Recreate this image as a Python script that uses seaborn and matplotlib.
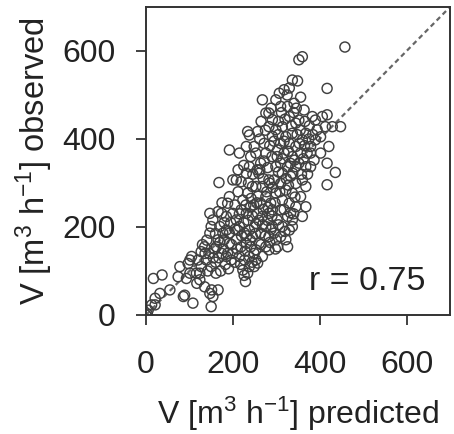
import matplotlib
matplotlib.use("Agg")
import matplotlib.pyplot as plt
import seaborn as sns
import pandas as pd

# ---- data ----
predicted = [
    0, 3, 5, 13, 21, 21, 32, 17, 37, 55, 78, 74, 89, 86, 97, 105, 101, 116, 108, 93, 101, 124, 117,
    127, 135, 139, 150, 147, 150, 147, 154, 127, 135, 147, 150, 154, 166, 124, 120, 136, 151, 161, 140, 130, 145, 155, 158, 142,
    168, 166, 174, 170, 177, 185, 192, 180, 192, 188, 196, 200, 185, 174, 162, 166, 192, 192, 188, 200, 185, 208, 211,
    170, 178, 183, 160, 172, 190, 197, 180, 175, 160, 195, 168,
    215, 234, 238, 257, 231, 249, 241, 200, 208, 219, 231, 238, 223, 234, 245, 219, 231, 241, 215, 227, 238, 245,
    208, 219, 231, 241, 215, 227, 238, 249, 223, 234, 238, 229, 253, 249,
    205, 212, 225, 235, 245, 250, 220, 240, 210, 228, 244, 205, 215, 230, 242, 248, 236, 225, 212, 246, 218, 232, 204, 226,
    276, 283, 268, 299, 291, 283, 272, 276, 253, 264, 260, 253, 268, 283, 276, 264, 287, 283, 268, 257, 253, 276, 291,
    264, 283, 295, 261, 276, 253, 268, 257, 283, 299, 302, 291, 299, 295, 299, 303, 291, 299,
    258, 270, 280, 290, 262, 285, 295, 275, 265, 288, 255, 270, 280, 290, 260, 275, 288, 265, 285, 298, 252, 278, 292,
    262, 272, 284, 256, 297, 268, 281,
    307, 318, 330, 337, 310, 326, 341, 330, 345, 314, 322, 337, 310, 330, 345, 318, 337, 310, 326, 345, 314, 333, 345,
    310, 322, 337, 314, 330, 345, 310, 326, 337, 314, 330, 310, 326, 322, 303, 337,
    305, 320, 335, 340, 305, 318, 328, 342, 315, 305, 323, 338, 308, 328, 343, 318, 333, 305, 320, 340, 312, 325, 348,
    346, 302, 332,
    352, 360, 349, 356, 364, 352, 368, 360, 379, 356, 371, 352, 368, 360, 368, 356, 368, 360, 383, 390, 394, 390, 379,
    387, 379, 355, 365, 375, 362, 372, 358, 376, 384, 353, 366,
    406, 417, 413, 429, 448, 421, 402, 417, 436, 417, 417, 458, 402,
]
observed = [
    0, 2, 11, 23, 23, 38, 49, 83, 91, 57, 110, 87, 45, 42, 117, 133, 95, 95, 27, 83, 125, 95, 72,
    144, 155, 125, 110, 186, 201, 231, 216, 110, 64, 49, 19, 42, 57, 80, 125, 140, 57, 95, 170, 160, 140, 130, 150, 100,
    301, 235, 231, 201, 186, 193, 186, 171, 163, 140, 125, 140, 133, 140, 155, 171, 375, 269, 254, 231, 224, 216, 193,
    165, 150, 115, 120, 100, 105, 160, 210, 255, 185, 210, 130,
    368, 417, 409, 417, 383, 383, 360, 307, 307, 303, 322, 337, 261, 277, 292, 239, 231, 246, 201, 186, 193, 178,
    171, 155, 163, 155, 133, 125, 133, 140, 102, 95, 110, 76, 125, 110,
    250, 280, 210, 215, 225, 200, 180, 170, 150, 145, 120, 195, 230, 250, 265, 250, 300, 340, 330, 320, 115, 180, 120, 90,
    459, 459, 489, 489, 444, 428, 390, 368, 368, 345, 322, 292, 292, 307, 269, 254, 254, 231, 224, 231, 208, 201, 201,
    186, 178, 186, 163, 155, 148, 133, 118, 148, 171, 216, 239, 277, 307, 337, 375, 406, 421,
    270, 310, 335, 360, 400, 385, 395, 420, 440, 470, 255, 240, 215, 225, 215, 180, 195, 160, 165, 150, 185, 280, 290,
    330, 350, 300, 330, 255, 205, 245,
    504, 512, 516, 534, 474, 474, 481, 451, 436, 428, 405, 413, 390, 390, 383, 368, 360, 345, 337, 337, 322, 315, 299,
    299, 284, 277, 261, 254, 246, 239, 224, 216, 201, 193, 178, 155, 171, 155, 201,
    440, 445, 430, 460, 410, 395, 372, 352, 355, 325, 310, 322, 280, 295, 268, 240, 232, 205, 190, 230, 460, 500, 410,
    470, 360, 345,
    580, 587, 532, 495, 466, 443, 413, 398, 383, 368, 368, 345, 337, 307, 292, 269, 246, 224, 451, 443, 421, 398, 368,
    352, 337, 420, 385, 400, 355, 320, 320, 430, 410, 390, 440,
    451, 455, 428, 428, 428, 383, 368, 345, 324, 296, 515, 609, 405,
]
ticks = [0, 200, 400, 600]
axis_limits = [0, 700]
r_value = 0.75

df = pd.DataFrame({"predicted": predicted, "observed": observed})

sns.set_style("ticks")
plt.rcParams["font.family"] = ["Liberation Sans", "DejaVu Sans"]
plt.rcParams["mathtext.fontset"] = "custom"
plt.rcParams["mathtext.rm"] = "Liberation Sans"
plt.rcParams["mathtext.it"] = "Liberation Sans:italic"

fig = plt.figure(figsize=(4.54, 4.34), dpi=100)
ax = fig.add_axes([146 / 454, 1 - 315 / 434, 304 / 454, 308 / 434])

ax.plot(axis_limits, axis_limits, color="#666666", lw=1.6, dashes=(2.2, 1.6), zorder=1)
sns.scatterplot(data=df, x="predicted", y="observed", ax=ax, marker="o", s=52,
                facecolor="none", edgecolor="#404040", linewidth=1.05, zorder=2)

ax.set_xlim(axis_limits)
ax.set_ylim(axis_limits)
ax.set_xticks(ticks)
ax.set_yticks(ticks)
ax.set_xticklabels([str(t) for t in ticks])
ax.set_yticklabels([str(t) for t in ticks])

for sp in ax.spines.values():
    sp.set_visible(True)
    sp.set_color("#333333")
    sp.set_linewidth(1.4)

ax.tick_params(axis="both", direction="out", length=7, width=1.3, color="#333333",
               labelsize=23, labelcolor="#222222")
ax.tick_params(axis="x", pad=18)
ax.tick_params(axis="y", pad=15)

ax.set_xlabel(r"V [m$^{3}$ h$^{-1}$] predicted", fontsize=23, color="#222222")
ax.set_ylabel(r"V [m$^{3}$ h$^{-1}$] observed", fontsize=23.5, color="#222222")
ax.xaxis.label.set_va("center")
ax.yaxis.label.set_va("center")
ax.xaxis.set_label_coords(0.5, -99 / 308)
ax.yaxis.set_label_coords(-112 / 304, 0.5)

ax.text((425 - 145) / 305, (315 - 290) / 308, f"r = {r_value:.2f}", transform=ax.transAxes,
        ha="right", va="baseline", fontsize=24.5, color="#222222")

fig.savefig("out.png", dpi=100)
